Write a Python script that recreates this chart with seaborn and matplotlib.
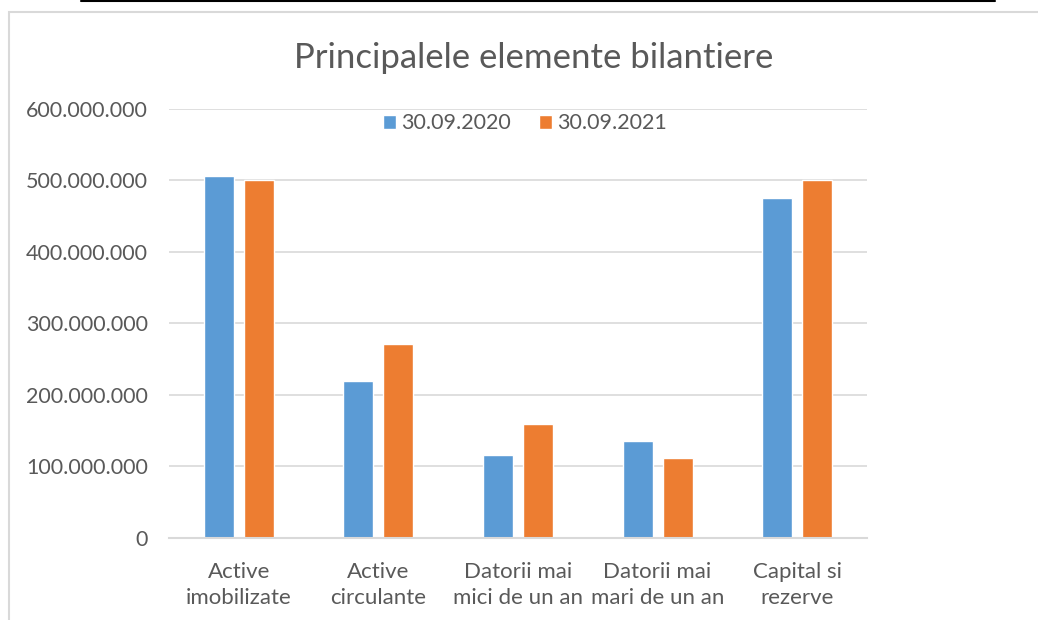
import matplotlib
matplotlib.use("Agg")
import matplotlib.pyplot as plt
import seaborn as sns
import pandas as pd
from matplotlib.lines import Line2D
from matplotlib.patches import Rectangle
from matplotlib.ticker import FuncFormatter

categories = ["Active\nimobilizate", "Active\ncirculante", "Datorii mai\nmici de un an",
              "Datorii mai\nmari de un an", "Capital si\nrezerve"]
series_names = ["30.09.2020", "30.09.2021"]
values_2020 = [506e6, 220e6, 116e6, 136e6, 475e6]
values_2021 = [500e6, 271e6, 159e6, 112e6, 500e6]
yticks = [0, 100e6, 200e6, 300e6, 400e6, 500e6, 600e6]

df = pd.DataFrame({
    "cat": categories * 2,
    "series": [series_names[0]] * 5 + [series_names[1]] * 5,
    "val": values_2020 + values_2021,
})

sns.set_theme(style="white")
plt.rcParams["font.family"] = ["Lato", "DejaVu Sans"]

fig = plt.figure(figsize=(10.38, 6.2), dpi=100)
ax = fig.add_axes([0.1628, 0.1323, 0.8353 - 0.1628, 0.8242 - 0.1323])

sns.barplot(data=df, x="cat", y="val", hue="series", order=categories,
            hue_order=series_names, palette=["#5b9bd5", "#ed7d31"],
            width=0.573, gap=0.25, ax=ax, saturation=1, errorbar=None)

ax.set_ylim(0, 600e6)
ax.set_xlim(-0.5, 4.5)
ax.set_yticks(yticks)
ax.yaxis.set_major_formatter(FuncFormatter(lambda v, p: "0" if v == 0 else f"{int(v):,}".replace(",", ".")))
ax.grid(axis="y", color="#d9d9d9", linewidth=1.2)
ax.set_axisbelow(True)
for s in ["top", "right", "left"]:
    ax.spines[s].set_visible(False)
ax.spines["bottom"].set_color("#d9d9d9")
ax.spines["bottom"].set_linewidth(1.5)
ax.set_xlabel("")
ax.set_ylabel("")
ax.tick_params(axis="both", length=0, colors="#595959")
ax.tick_params(axis="y", pad=15, labelsize=15.5)
ax.tick_params(axis="x", pad=17, labelsize=16)
for lab in ax.get_xticklabels():
    lab.set_linespacing(1.4)

leg = ax.legend(loc="upper center", bbox_to_anchor=(0.51, 1.035), ncol=2, frameon=False,
                fontsize=15.5, handlelength=0.6, handleheight=0.6, handletextpad=0.25,
                columnspacing=1.3, labelcolor="#595959")

fig.text(0.514, 0.906, "Principalele elemente bilantiere", ha="center", va="center",
         fontsize=25, color="#595959")

# outer chart border and top black line
fig.add_artist(Rectangle((9 / 1038, -0.05), 1.2, 1 - 12 / 620 + 0.05, transform=fig.transFigure,
                         fill=False, edgecolor="#d9d9d9", linewidth=1.5))
fig.add_artist(Line2D([81 / 1038, 995 / 1038], [1 - 1.0 / 620] * 2, transform=fig.transFigure,
                      color="black", linewidth=1.5))

fig.savefig("out.png", dpi=100)
